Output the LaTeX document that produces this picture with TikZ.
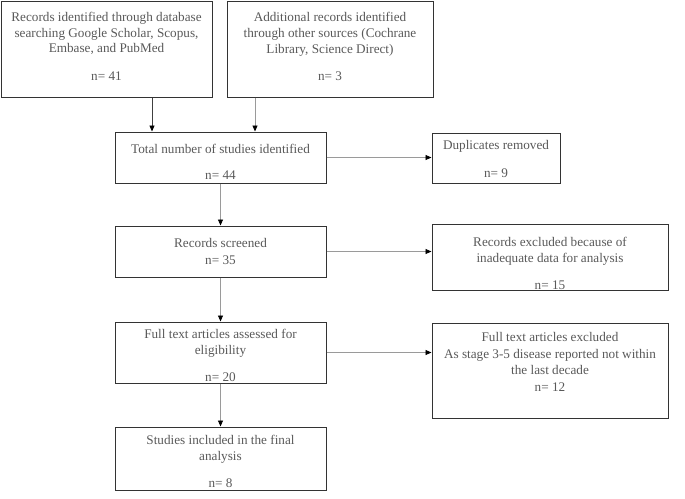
\documentclass[tikz,border=0pt]{standalone}
\usepackage{fontspec}
\setmainfont{Liberation Serif}
\usetikzlibrary{arrows.meta}
\definecolor{txt}{HTML}{595959}
\definecolor{ln}{HTML}{9A9A9A}
\definecolor{bd}{HTML}{333333}
\tikzset{
  box/.style={draw=bd, line width=1pt, rectangle, inner sep=0pt},
  lbl/.style={text=txt, align=center, inner sep=0pt, font=\fontsize{13.2}{15.8}\selectfont},
  arr/.style={draw=ln, line width=0.8pt, -{Triangle[length=6pt,width=5pt,fill=black,color=black]}},
}
\begin{document}
\begin{tikzpicture}[x=1pt,y=-1pt]
\useasboundingbox (0,0) rectangle (685,498);
% boxes
\node[box, minimum width=211pt, minimum height=96pt] (A) at (106.5,49) {};
\node[box, minimum width=206pt, minimum height=96pt] (B) at (330,49) {};
\node[box, minimum width=211pt, minimum height=51pt] (T) at (220.5,157.5) {};
\node[box, minimum width=128pt, minimum height=50pt] (D) at (496,158) {};
\node[box, minimum width=211pt, minimum height=51pt] (S) at (220.5,251.5) {};
\node[box, minimum width=236pt, minimum height=66pt] (E1) at (550,257) {};
\node[box, minimum width=211pt, minimum height=61pt] (F) at (220.5,352.5) {};
\node[box, minimum width=236pt, minimum height=95pt] (E2) at (550,370.5) {};
\node[box, minimum width=211pt, minimum height=63pt] (I) at (220.5,458.5) {};
% texts
\node[lbl] (At) at (106.5,33.5) {Records identified through database\\searching Google Scholar, Scopus,\\Embase, and PubMed};
\node[lbl] (An) at (106.5,76) {n= 41};
\node[lbl] (Bt) at (330,34) {Additional records identified\\through other sources (Cochrane\\Library, Science Direct)};
\node[lbl] (Bn) at (330,76) {n= 3};
\node[lbl] (Tt) at (220.5,149) {Total number of studies identified};
\node[lbl] (Tn) at (220.5,175) {n= 44};
\node[lbl] (Dt) at (496,146) {Duplicates removed};
\node[lbl] (Dn) at (496,173) {n= 9};
\node[lbl] (St) at (220.5,243) {Records screened};
\node[lbl] (Sn) at (220.5,260) {n= 35};
\node[lbl] (E1t) at (550,251.5) {Records excluded because of\\inadequate data for analysis};
\node[lbl] (E1n) at (550,285) {n= 15};
\node[lbl] (Ft) at (220.5,343.5) {Full text articles assessed for\\eligibility};
\node[lbl] (Fn) at (220.5,377) {n= 20};
\node[lbl] (E2a) at (550,337) {Full text articles excluded};
\node[lbl] (E2t) at (550,362) {As stage 3-5 disease reported not within\\the last decade};
\node[lbl] (E2n) at (550,387) {n= 12};
\node[lbl] (It) at (220.5,449) {Studies included in the final\\analysis};
\node[lbl] (In) at (220.5,483) {n= 8};
% connectors
\coordinate (xa) at (152,0);
\coordinate (xb) at (255,0);
\draw[arr, draw=black!75] (A.south -| xa) -- (T.north -| xa);
\draw[arr] (B.south -| xb) -- (T.north -| xb);
\draw[arr] (T.east) -- (T.east -| D.west);
\draw[arr] (T.south) -- (S.north);
\draw[arr] (S.east) -- (S.east -| E1.west);
\draw[arr] (S.south) -- (F.north);
\draw[arr] (F.east) -- (F.east -| E2.west);
\draw[arr] (F.south) -- (I.north);
\end{tikzpicture}
\end{document}
